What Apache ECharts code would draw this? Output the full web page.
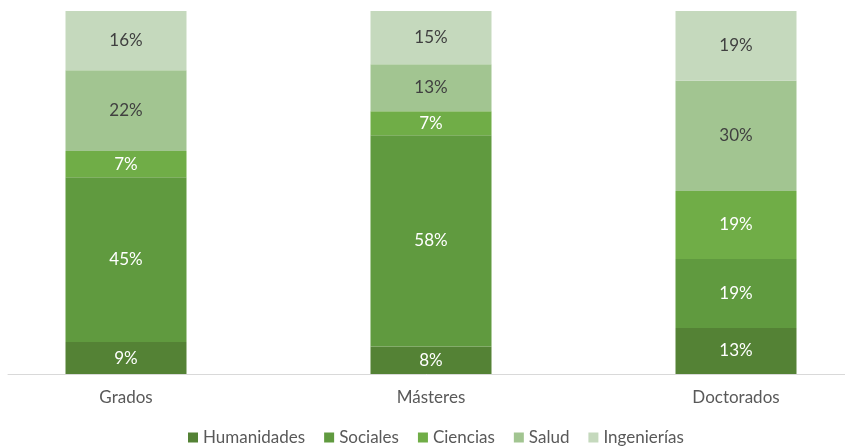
<!DOCTYPE html>
<html>
<head>
<meta charset="utf-8">
<script src="https://cdn.jsdelivr.net/npm/echarts@6/dist/echarts.min.js"></script>
<style>html,body{margin:0;padding:0;background:#fff}#c{width:845px;height:448px}</style>
</head>
<body>
<div id="c"></div>
<script>
const categories = ['Grados', 'Másteres', 'Doctorados'];
const seriesNames = ['Humanidades', 'Sociales', 'Ciencias', 'Salud', 'Ingenierías'];
const humanidades = [8.8, 7.6, 12.7];
const sociales = [45.4, 58.2, 19.0];
const ciencias = [7.2, 6.6, 18.7];
const salud = [22.3, 12.9, 30.4];
const ingenierias = [16.3, 14.7, 19.2];

const values = [humanidades, sociales, ciencias, salud, ingenierias];
const colors = ['#548235', '#609a3f', '#70ad47', '#a2c591', '#c5d9bd'];
const labelColors = ['#ffffff', '#ffffff', '#ffffff', '#404040', '#404040'];
const FONT = 'Lato, "Open Sans", sans-serif';

const chart = echarts.init(document.getElementById('c'));
chart.setOption({
  animation: false,
  textStyle: { fontFamily: FONT },
  legend: {
    data: seriesNames,
    top: 424,
    left: 183,
    icon: 'rect',
    itemWidth: 10,
    itemHeight: 10,
    itemGap: 19,
    textStyle: { color: '#595959', fontSize: 17, fontFamily: FONT }
  },
  grid: [
    { left: 126, right: 109, top: 11, height: 363 },
    { left: 8, right: 0, top: 11, height: 363 }
  ],
  xAxis: [
    {
      type: 'category', gridIndex: 0, data: categories, boundaryGap: false,
      axisLine: { show: false }, axisTick: { show: false },
      axisLabel: { color: '#595959', fontSize: 17, margin: 15, fontFamily: FONT }
    },
    {
      type: 'category', gridIndex: 1, data: categories,
      axisLine: { show: true, lineStyle: { color: '#d9d9d9', width: 1 } },
      axisTick: { show: false }, axisLabel: { show: false }
    }
  ],
  yAxis: [
    { type: 'value', gridIndex: 0, min: 0, max: 100, show: false },
    { type: 'value', gridIndex: 1, min: 0, max: 100, show: false }
  ],
  series: seriesNames.map((name, i) => ({
    name: name,
    type: 'bar',
    stack: 'total',
    xAxisIndex: 0, yAxisIndex: 0,
    barWidth: 121,
    clip: false,
    data: values[i],
    itemStyle: { color: colors[i] },
    label: {
      show: true,
      position: 'inside',
      color: labelColors[i],
      fontSize: 17,
      fontFamily: FONT,
      formatter: p => Math.round(p.value) + '%'
    }
  }))
});
</script>
</body>
</html>
